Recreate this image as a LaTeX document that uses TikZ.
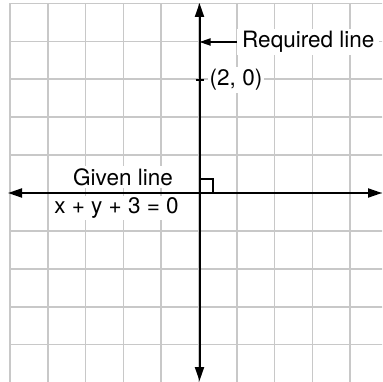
\documentclass[tikz,border=0pt]{standalone}
\usepackage{fontspec}
\setmainfont{TeX Gyre Heros}
\usetikzlibrary{arrows.meta}
\definecolor{gridgray}{RGB}{200,200,200}
\tikzset{
  gridline/.style={draw=gridgray, line width=1.7pt},
  axisline/.style={draw=black, line width=2pt},
  bigtip/.style={-{Triangle[length=14pt,width=9pt]}},
  lbl/.style={fill=white, inner sep=2pt, font=\fontsize{22.5}{26}\selectfont, text=black},
  thinmark/.style={draw=black, line width=1.5pt}
}
\begin{document}
\begin{tikzpicture}[x=1pt,y=-1pt]
\useasboundingbox (0,0) rectangle (382,382);
\begin{scope}
\clip (0,0) rectangle (382,382);
% grid
\foreach \k in {0,...,10} {
  \draw[gridline] ({10+37.8*\k},3.5) -- ({10+37.8*\k},390);
  \draw[gridline] (10,{3.5+37.9*\k}) -- (390,{3.5+37.9*\k});
}
\end{scope}
% labels
\node[lbl, anchor=west, inner xsep=5pt] (req) at (237,42) {Required line};
\node[lbl] (pt) at (236,80) {(2, 0)};
\node[lbl] (given) at (123,177) {Given line};
\node[lbl] (eq) at (116.5,208) {x + y + 3 = 0};
% axis end points
\coordinate (top) at (199.5,3);
\coordinate (bot) at (199.5,381);
\coordinate (left) at (8,193);
\coordinate (right) at (382,193);
\coordinate (o) at (199.5,193);
\coordinate (reqend) at (199.5,42);
\coordinate (tickl) at (195.5,80);
\coordinate (tickr) at (203.5,80);
\coordinate (sqa) at (199.5,179);
\coordinate (sqb) at (213,179);
\coordinate (sqc) at (213,193);
% axes
\draw[axisline, bigtip] (o) -- (top);
\draw[axisline, bigtip] (o) -- (bot);
\draw[axisline, bigtip] (o) -- (left);
\draw[axisline, bigtip] (o) -- (right);
% required line pointer
\draw[axisline, line width=1.8pt, -{Triangle[length=11pt,width=7pt]}] (req.west) -- (reqend);
% tick and right angle
\draw[thinmark] (tickl) -- (tickr);
\draw[thinmark] (sqa) -- (sqb) -- (sqc);
\end{tikzpicture}
\end{document}
